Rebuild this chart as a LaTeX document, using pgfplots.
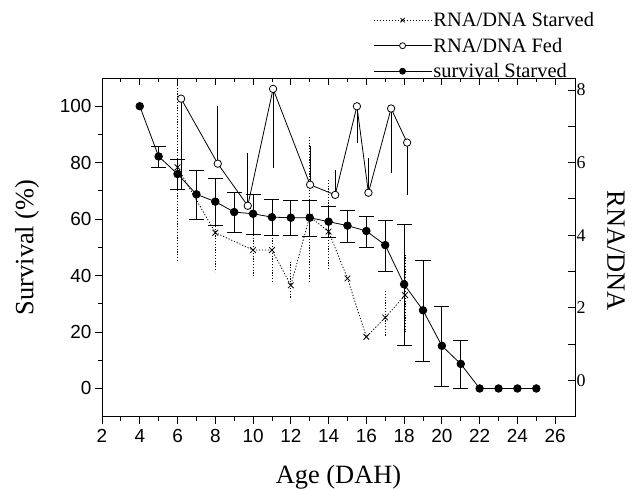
\documentclass[border=0pt]{standalone}
\usepackage{fontspec}
\setmainfont{Liberation Serif}
\newfontfamily\sansf{Liberation Sans}
\usepackage{pgfplots}
\pgfplotsset{compat=1.18}
\begin{document}
\begin{tikzpicture}
\pgfplotsset{
  common/.style={
    scale only axis, width=473bp, height=338.7bp,
    xmin=2, xmax=27.05,
    xtick={2,4,...,26}, minor xtick={3,5,...,25},
    major tick length=7bp, minor tick length=4bp,
    every tick/.style={black, line width=0.8bp},
    axis line style={line width=0.8bp},
    /pgf/number format/assume math mode=true,
  },
  erb/.style={draw=none, mark=none, forget plot},
}
\begin{axis}[common, name=main,
  axis x line*=bottom, axis y line*=left, tick align=outside,
  ymin=-10, ymax=110, ytick={0,20,...,100}, minor ytick={10,30,...,90},
  ticklabel style={font=\sansf\fontsize{19}{22}\selectfont},
  xticklabel style={yshift=-2bp},
  xlabel={Age (DAH)}, ylabel={Survival (\%)},
  label style={font=\fontsize{26.5}{30}\selectfont},
  xlabel style={at={(axis description cs:0.5,0)}, anchor=base, yshift=-66.3bp},
  ylabel style={at={(axis description cs:-0.1586,0.5)}, anchor=center},
]
% survival error bars
\addplot[erb, error bars/.cd, y dir=both, y explicit,
  error mark options={rotate=90, black, mark size=7.5bp, line width=0.8bp},
  error bar style={black, line width=0.8bp}] coordinates {
 (5,82.2) += (0,3.5) -= (0,3.8)
 (6,76.0) += (0,5.0) -= (0,5.4)
 (7,68.8) += (0,8.4) -= (0,8.8)
 (8,66.2) += (0,8.2) -= (0,8.3)
 (9,62.5) += (0,6.9) -= (0,7.2)
 (10,61.9) += (0,6.7) -= (0,7.2)
 (11,60.7) += (0,6.3) -= (0,6.5)
 (12,60.5) += (0,6.3) -= (0,6.3)
 (13,60.5) += (0,6.1) -= (0,6.5)
 (14,59.1) += (0,5.3) -= (0,5.4)
 (15,57.7) += (0,5.3) -= (0,5.9)
 (16,55.8) += (0,5.1) -= (0,5.8)
 (17,50.8) += (0,8.6) -= (0,9.2)
 (18,36.9) += (0,21.3) -= (0,21.6)
 (19,27.7) += (0,17.8) -= (0,18.1)
 (20,15.1) += (0,14.0) -= (0,14.3)
 (21,8.7) += (0,8.4) -= (0,8.5)
};
\addplot[black, line width=0.8bp, mark=*, mark size=3.8bp] coordinates {
 (4,100) (5,82.2) (6,76.0) (7,68.8) (8,66.2) (9,62.5) (10,61.9) (11,60.7)
 (12,60.5) (13,60.5) (14,59.1) (15,57.7) (16,55.8) (17,50.8) (18,36.9)
 (19,27.7) (20,15.1) (21,8.7) (22,0) (23,0) (24,0) (25,0)
};
\end{axis}
\begin{axis}[common,
  axis x line*=top, axis y line*=right, tick align=inside,
  xticklabels={},
  ymin=-1, ymax=8.33, ytick={0,1,...,8}, yticklabels={0,,2,,4,,6,,8},
  yticklabel style={font=\fontsize{18}{21}\selectfont, xshift=-2bp},
  ylabel={RNA/DNA},
  label style={font=\fontsize{26.5}{30}\selectfont},
  ylabel style={at={(axis description cs:1.0867,0.49)}, anchor=center, rotate=180},
  legend image code/.code={\draw[mark repeat=2, mark phase=2, #1] plot coordinates {(0bp,0bp) (29bp,0bp) (58bp,0bp)};},
  legend image post style={mark size=3bp},
  legend style={at={(axis description cs:0.5729,1.2037)}, anchor=north west,
    draw=none, fill=none, inner sep=0pt, row sep=3.5bp, column sep=0pt,
    nodes={inner sep=1.5bp, text height=16bp, text depth=3bp, font=\fontsize{20.5}{24}\selectfont},
    cells={anchor=west}},
]
% Fed error lines (one-sided)
\addplot[erb, error bars/.cd, y dir=both, y explicit, error mark=none,
  error bar style={black, line width=0.8bp}] coordinates {
 (6.19,7.76) += (0,0) -= (0,2.51)
 (8.13,5.97) += (0,1.58) -= (0,0)
 (9.72,4.81) += (0,1.45) -= (0,0)
 (11.06,8.03) += (0,0) -= (0,2.17)
 (13.02,5.39) += (0,1.07) -= (0,0)
 (14.35,5.11) += (0,0.69) -= (0,0)
 (15.5,7.55) += (0,0) -= (0,1.01)
 (16.11,5.17) += (0,0.95) -= (0,0)
 (17.31,7.49) += (0,0) -= (0,1.78)
 (18.16,6.55) += (0,0) -= (0,1.44)
};
% Starved error lines (dotted)
\addplot[erb, error bars/.cd, y dir=both, y explicit, error mark=none,
  error bar style={black, line width=0.8bp, dash pattern=on 1.2bp off 1.6bp}] coordinates {
 (6,5.87) += (0,2.42) -= (0,2.6)
 (8,4.07) += (0,1.08) -= (0,1.08)
 (10,3.59) += (0,0.74) -= (0,0.74)
 (11,3.59) += (0,0.92) -= (0,0.92)
 (12,2.62) += (0,0.65) -= (0,0.37)
 (13,4.51) += (0,2.21) -= (0,1.84)
 (14,4.10) += (0,1.44) -= (0,1.01)
 (17,1.73) += (0,0.76) -= (0,0.53)
 (18.08,2.35) += (0,1.15) -= (0,1.02)
};
\addplot[black, line width=0.8bp, dash pattern=on 1.2bp off 1.8bp, mark=x, mark size=4bp, mark options={solid}] coordinates {
 (6,5.87) (8,4.07) (10,3.59) (11,3.59) (12,2.62) (13,4.51) (14,4.10)
 (15,2.81) (16,1.20) (17,1.73) (18.05,2.35)
};
\addlegendentry{RNA/DNA Starved}
\addplot[black, line width=0.8bp, mark=*, mark size=3.7bp, mark options={fill=white}] coordinates {
 (6.19,7.76) (8.13,5.97) (9.72,4.81) (11.06,8.03) (13.02,5.39) (14.35,5.11)
 (15.5,7.55) (16.11,5.17) (17.31,7.49) (18.16,6.55)
};
\addlegendentry{RNA/DNA Fed}
\addlegendimage{black, line width=0.8bp, mark=*, mark size=3.8bp}
\addlegendentry{survival Starved}
\end{axis}
\pgfresetboundingbox
\path[use as bounding box] ([xshift=-102bp,yshift=-72.3bp]main.south west) rectangle ([xshift=62bp,yshift=78bp]main.north east);
\end{tikzpicture}
\end{document}
